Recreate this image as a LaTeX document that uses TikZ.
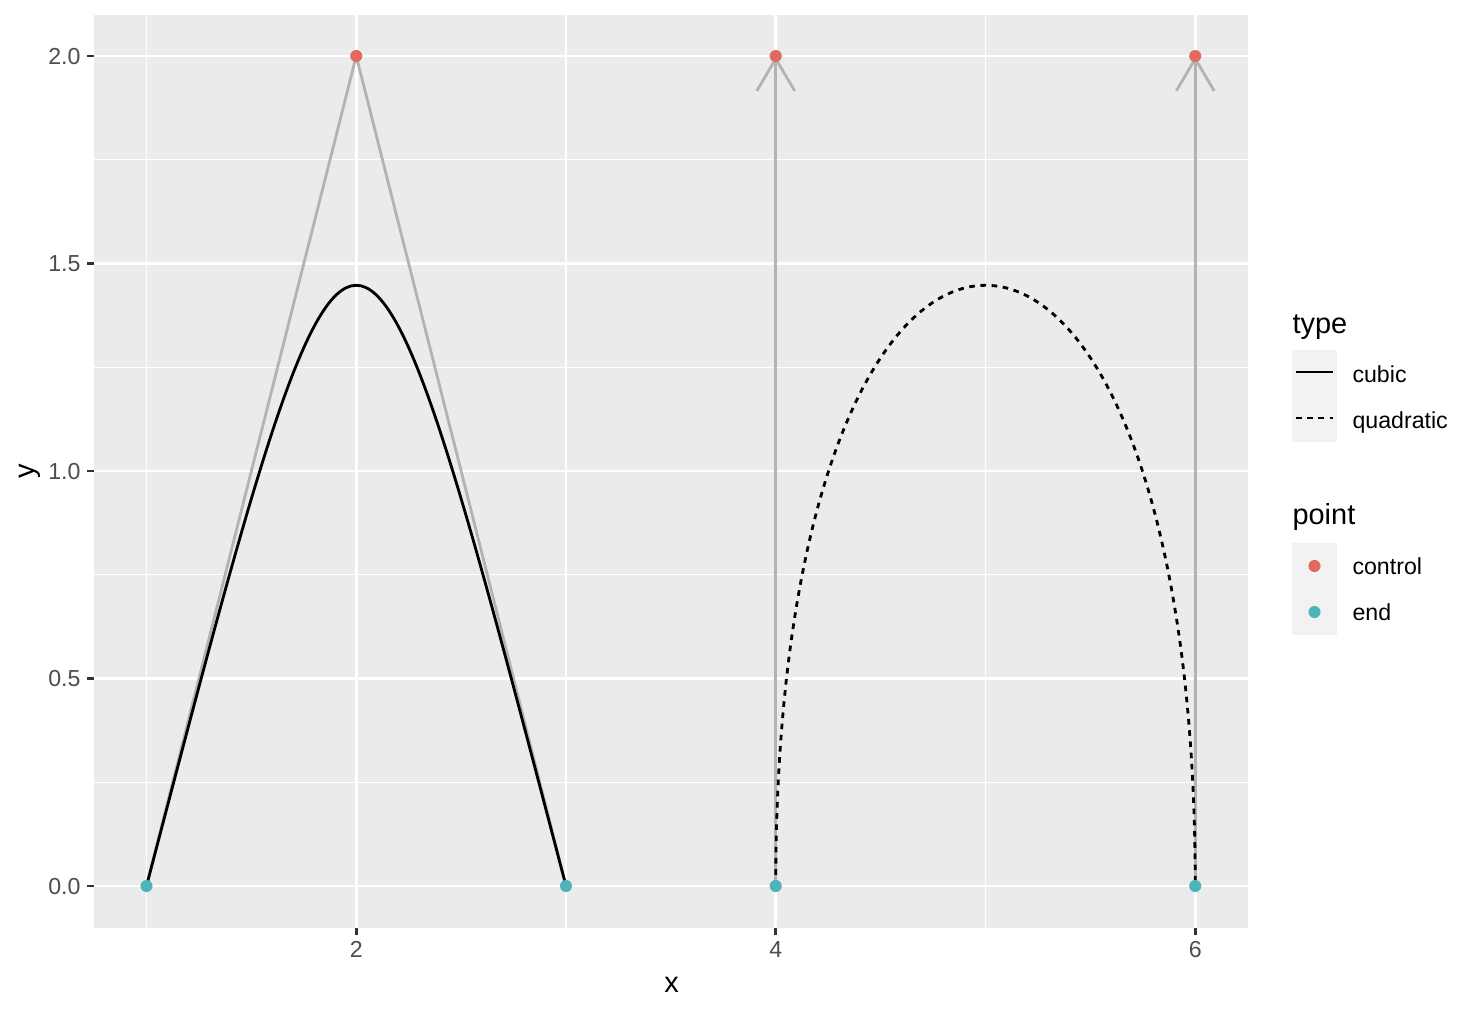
\documentclass[tikz,border=0pt]{standalone}
\usepackage{fontspec}
\setmainfont{Liberation Sans}
\usepackage{tikz}
\usetikzlibrary{arrows.meta}
\definecolor{panelgrey}{HTML}{EBEBEB}
\definecolor{keygrey}{HTML}{F2F2F2}
\definecolor{ticktext}{HTML}{4D4D4D}
\definecolor{tickline}{HTML}{333333}
\definecolor{guidegrey}{HTML}{B3B3B3}
\definecolor{ctrlred}{HTML}{E2695F}
\definecolor{endteal}{HTML}{4DB5B8}

\tikzset{
  majorgrid/.style={white, line width=1.07pt},
  minorgrid/.style={white, line width=0.53pt},
  guide/.style={guidegrey, line width=1.07pt},
  bez/.style={black, line width=1.07pt},
  quadbez/.style={bez, dash pattern=on 2.13pt off 2.13pt},
  ctrlpt/.style={circle, fill=ctrlred, inner sep=0pt, minimum size=4.6pt},
  endpt/.style={circle, fill=endteal, inner sep=0pt, minimum size=4.6pt},
  ticklabel/.style={font=\fontsize{8.8}{10}\selectfont, text=ticktext, inner sep=0pt},
  keylabel/.style={font=\fontsize{8.8}{10}\selectfont, inner sep=0pt, anchor=base west},
  axistitle/.style={font=\fontsize{11}{13}\selectfont, inner sep=0pt},
}

\begin{document}
\begin{tikzpicture}[x=0.38pt, y=-0.38pt]
\useasboundingbox[fill=white] (0,0) rectangle (1478,1012);

% panel, in data units
\begin{scope}[xshift=-24.035pt, yshift=-336.68pt, x=79.705pt, y=157.7pt]
\fill[panelgrey] (0.75,-0.1) rectangle (6.25,2.1);
\foreach \gx in {1,3,5}
  \draw[minorgrid] (\gx,-0.1) -- (\gx,2.1);
\foreach \gy in {0.25,0.75,1.25,1.75}
  \draw[minorgrid] (0.75,\gy) -- (6.25,\gy);
\foreach \gx in {2,4,6}
  \draw[majorgrid] (\gx,-0.1) -- (\gx,2.1);
\foreach \gy in {0,0.5,1,1.5,2}
  \draw[majorgrid] (0.75,\gy) -- (6.25,\gy);

\coordinate (endA) at (1,0);
\coordinate (ctrlA) at (2,2);
\coordinate (endB) at (3,0);
\coordinate (endC) at (4,0);
\coordinate (ctrlC) at (4,2);
\coordinate (endD) at (6,0);
\coordinate (ctrlD) at (6,2);

\draw[guide] (endA) -- (ctrlA) -- (endB);
\draw[guide, -{Straight Barb[length=12.2pt, width=14.4pt]}] (endC) -- (ctrlC);
\draw[guide, -{Straight Barb[length=12.2pt, width=14.4pt]}] (endD) -- (ctrlD);

\draw[bez] (endA) .. controls (2,1.93) and (2,1.93) .. (endB);
\draw[quadbez] (endC) .. controls (4,1.93) and (6,1.93) .. (endD);

\node[ctrlpt] (ptA2) at (ctrlA) {};
\node[ctrlpt] (ptC2) at (ctrlC) {};
\node[ctrlpt] (ptD2) at (ctrlD) {};
\node[endpt] (ptA1) at (endA) {};
\node[endpt] (ptB1) at (endB) {};
\node[endpt] (ptC1) at (endC) {};
\node[endpt] (ptD1) at (endD) {};

% axes
\foreach \v/\t in {0/0.0,0.5/0.5,1/1.0,1.5/1.5,2/2.0} {
  \draw[tickline, line width=1.07pt] (0.75,\v) -- ++(-2.74pt,0);
  \node[ticklabel, anchor=base east, xshift=-4.94pt, yshift=-3.17pt] (ylab\t) at (0.75,\v) {\t};
}
\foreach \v in {2,4,6} {
  \draw[tickline, line width=1.07pt] (\v,-0.1) -- ++(0,-2.74pt);
  \node[ticklabel, anchor=base, yshift=-11.4pt] (xlab\v) at (\v,-0.1) {\v};
}
\end{scope}

\node[axistitle, anchor=base] (xtitle) at (671.5,992) {x};
\node[axistitle, rotate=90] (ytitle) at (30,471) {y};

% legend
\node[axistitle, anchor=base west] (typetitle) at (1292,333) {type};
\fill[keygrey] (1292,350) rectangle (1337,396);
\fill[keygrey] (1292,396) rectangle (1337,442);
\draw[bez] (1296,372) -- (1333,372);
\draw[quadbez] (1296,418) -- (1333,418);
\node[keylabel] (cubiclab) at (1352,382) {cubic};
\node[keylabel] (quadlab) at (1352,428) {quadratic};

\node[axistitle, anchor=base west] (pointtitle) at (1292,524) {point};
\fill[keygrey] (1292,543) rectangle (1337,589);
\fill[keygrey] (1292,589) rectangle (1337,635);
\node[ctrlpt] (ctrlkey) at (1314.5,566) {};
\node[endpt] (endkey) at (1314.5,612) {};
\node[keylabel] (ctrllab) at (1352,574) {control};
\node[keylabel] (endlab) at (1352,620) {end};
\end{tikzpicture}
\end{document}
